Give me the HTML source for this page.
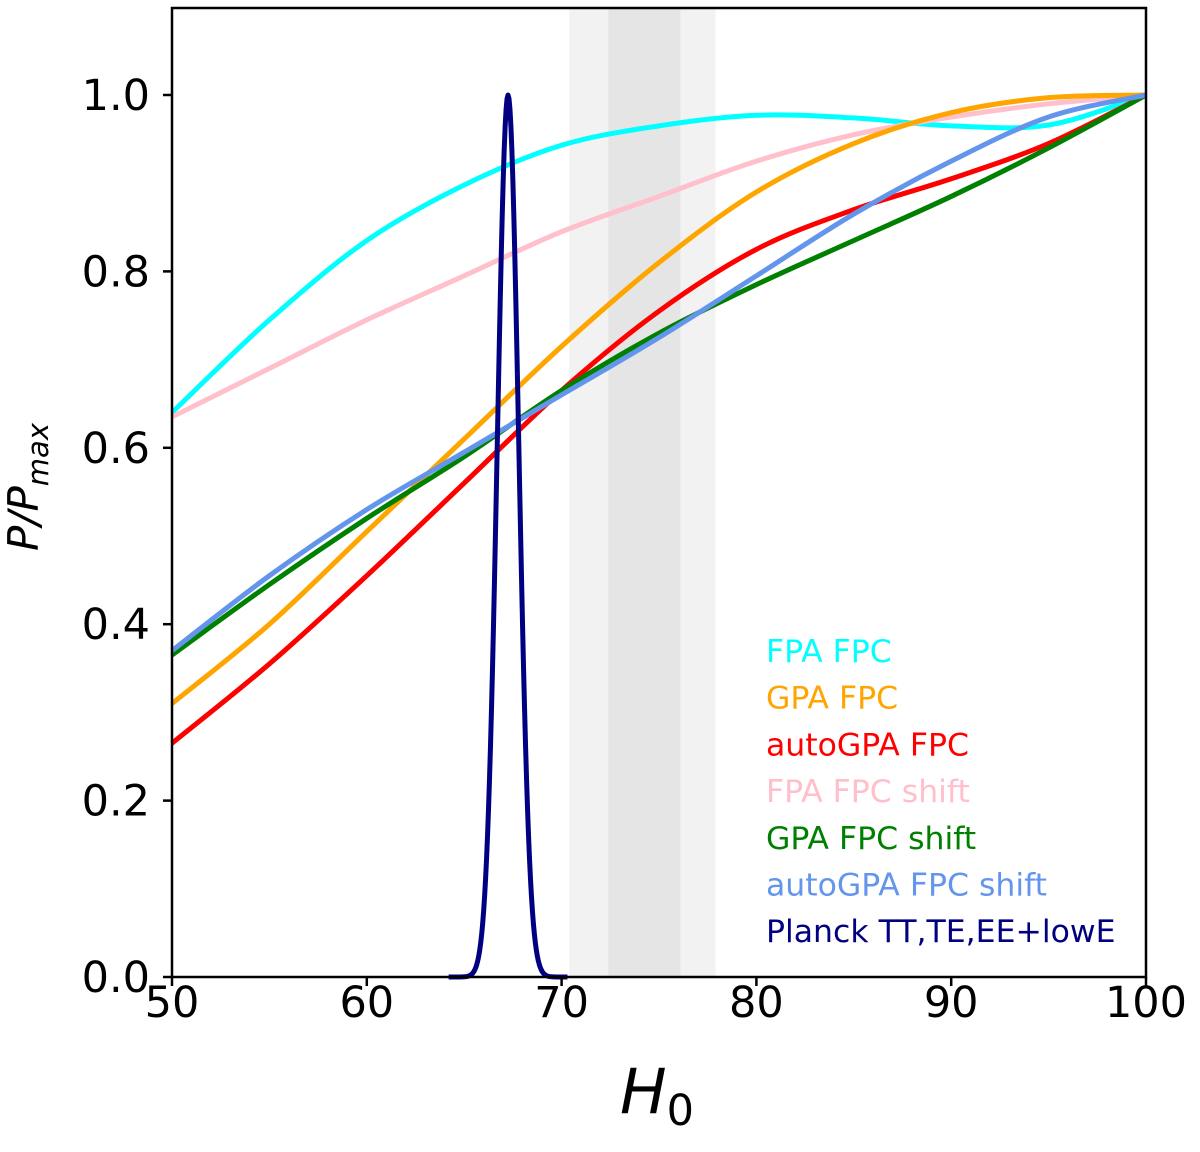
<!DOCTYPE html>
<html><head><meta charset="utf-8"><style>
body{margin:0;background:#fff;}
svg{display:block;font-family:"DejaVu Sans","Liberation Sans",sans-serif;}
</style></head><body>
<svg id="chart" width="1200" height="1152">
<g id="bands"></g>
<g id="curves"></g>
<g id="axes"></g>
<g id="legend"></g>
</svg>
<script>
const xs = [50,55,60,65,70,75,80,85,90,95,100];
const cyanFPA = [0.64,0.745,0.835,0.898,0.943,0.965,0.977,0.974,0.965,0.966,1.0];
const pinkFPAshift = [0.635,0.69,0.745,0.795,0.845,0.885,0.925,0.955,0.975,0.99,1.0];
const orangeGPA = [0.31,0.40,0.505,0.61,0.715,0.81,0.89,0.945,0.98,0.997,1.0];
const redAutoGPA = [0.265,0.355,0.455,0.56,0.665,0.755,0.825,0.87,0.905,0.945,1.0];
const greenGPAshift = [0.365,0.445,0.52,0.59,0.665,0.73,0.785,0.835,0.885,0.94,1.0];
const blueAutoGPAshift = [0.37,0.455,0.53,0.595,0.66,0.725,0.795,0.865,0.925,0.975,1.0];
const planckMean = [67.25];
const planckSigma = [0.55];
const bandOuter = [70.4,77.9];
const bandInner = [72.4,76.1];
const xTicks = [50,60,70,80,90,100];
const yTicks = [0.0,0.2,0.4,0.6,0.8,1.0];
const legendLabels = ["FPA FPC","GPA FPC","autoGPA FPC","FPA FPC shift","GPA FPC shift","autoGPA FPC shift","Planck TT,TE,EE+lowE"];

const L=172,R=1146,T=8,B=977;
const X=v=>L+(v-50)/50*(R-L);
const Y=v=>B-v*(B-95);
const NS="http://www.w3.org/2000/svg";
function mk(tag,attrs,parent){const e=document.createElementNS(NS,tag);for(const k in attrs)e.setAttribute(k,attrs[k]);parent.appendChild(e);return e;}
const bands=document.getElementById('bands'),curves=document.getElementById('curves'),axes=document.getElementById('axes'),legend=document.getElementById('legend');

let r1=mk('rect',{x:X(bandOuter[0]),y:T,width:X(bandOuter[1])-X(bandOuter[0]),height:B-T,fill:'#f2f2f2'},bands);


let r2=mk('rect',{x:X(bandInner[0]),y:T,width:X(bandInner[1])-X(bandInner[0]),height:B-T,fill:'#e5e5e5'},bands);



function smooth(pts){
  let d=`M${pts[0][0]},${pts[0][1]}`;
  for(let i=0;i<pts.length-1;i++){
    const p0=pts[Math.max(0,i-1)],p1=pts[i],p2=pts[i+1],p3=pts[Math.min(pts.length-1,i+2)];
    const c1=[p1[0]+(p2[0]-p0[0])/6,p1[1]+(p2[1]-p0[1])/6];
    const c2=[p2[0]-(p3[0]-p1[0])/6,p2[1]-(p3[1]-p1[1])/6];
    d+=`C${c1[0]},${c1[1]} ${c2[0]},${c2[1]} ${p2[0]},${p2[1]}`;
  }
  return d;
}
const series=[[cyanFPA,'#00ffff','curve-fpa-fpc'],[pinkFPAshift,'#ffc0cb','curve-fpa-fpc-shift'],[orangeGPA,'#ffa500','curve-gpa-fpc'],[redAutoGPA,'#ff0000','curve-autogpa-fpc'],[greenGPAshift,'#008000','curve-gpa-fpc-shift'],[blueAutoGPAshift,'#6495ed','curve-autogpa-fpc-shift']];
series.forEach(([vals,col,name])=>{
  const p=mk('path',{d:smooth(vals.map((v,i)=>[X(xs[i]),Y(v)])),fill:'none',stroke:col,'stroke-width':5},curves);
  
  
});
let pd='';
for(let h=64.2;h<=70.3;h+=0.05){const v=Math.exp(-0.5*Math.pow((h-planckMean[0])/planckSigma[0],2));pd+=(pd?'L':'M')+X(h)+','+Y(v);}
const pl=mk('path',{d:pd,fill:'none',stroke:'#000080','stroke-width':5,'stroke-linejoin':'round'},curves);



const fr=mk('rect',{x:L,y:T,width:R-L,height:B-T,fill:'none',stroke:'#000','stroke-width':2.5},axes);


xTicks.forEach(t=>{
  mk('line',{x1:X(t),x2:X(t),y1:B,y2:B+9,stroke:'#000','stroke-width':2.5},axes);
  const tx=mk('text',{x:X(t),y:B+40,'font-size':43,'text-anchor':'middle'},axes);tx.textContent=t;
  
  
});
yTicks.forEach(t=>{
  mk('line',{x1:L-9,x2:L,y1:Y(t),y2:Y(t),stroke:'#000','stroke-width':2.5},axes);
  const tx=mk('text',{x:L-22,y:Y(t)+15,'font-size':43,'text-anchor':'end'},axes);tx.textContent=t.toFixed(1);
  
  
});
const xl=mk('text',{x:657,y:1113,'font-size':62,'text-anchor':'middle','font-style':'italic'},axes);
xl.innerHTML='H<tspan font-style="normal" font-size="43" dy="12">0</tspan>';


const yl=mk('text',{x:0,y:0,'font-size':42,'text-anchor':'middle','font-style':'italic',transform:'translate(38,487) rotate(-90)'},axes);
yl.innerHTML='P/P<tspan font-size="29" dy="10">max</tspan>';



const lcols=['#00ffff','#ffa500','#ff0000','#ffc0cb','#008000','#6495ed','#000080'];
legendLabels.forEach((s,i)=>{
  const tx=mk('text',{x:766,y:662+i*46.7,'font-size':31.5,fill:lcols[i]},legend);tx.textContent=s;
  
  
});
</script>
</body></html>
